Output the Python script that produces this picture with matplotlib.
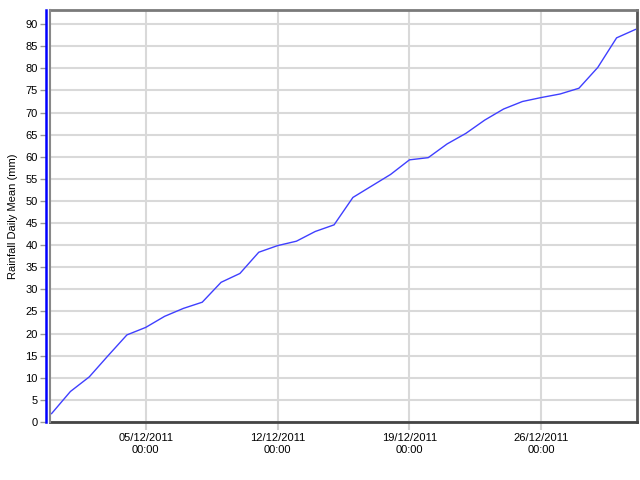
import datetime as dt
import numpy as np
import matplotlib
matplotlib.use('Agg')
import matplotlib.pyplot as plt
import matplotlib.dates as mdates

# daily rainfall mean (cumulative), 30/11/2011 .. 31/12/2011
start = dt.datetime(2011, 11, 30)
days = [start + dt.timedelta(days=i) for i in range(32)]
rain = [1.9, 6.9, 10.2, 15.0, 19.7, 21.4, 23.9, 25.7, 27.1, 31.6,
        33.6, 38.4, 39.9, 40.9, 43.1, 44.6, 50.8, 53.4, 56.0, 59.3,
        59.8, 62.9, 65.3, 68.3, 70.8, 72.5, 73.4, 74.2, 75.5, 80.2,
        86.9, 88.8]
tick_days = [dt.datetime(2011, 12, d) for d in (5, 12, 19, 26)]
y_ticks = list(range(0, 95, 5))

plt.rcParams['font.family'] = ['Liberation Sans', 'DejaVu Sans']

fig = plt.figure(figsize=(6.4, 4.8), dpi=100)
ax = fig.add_axes([50 / 640, 1 - 422 / 480, 587 / 640, 412 / 480])

ax.plot(days, rain, color='#3f3fff', linewidth=1.0, zorder=3)

ax.set_xlim(days[0] - dt.timedelta(hours=2), days[-1] + dt.timedelta(hours=2))
ax.set_ylim(0, 93.2)

ax.set_yticks(y_ticks)
ax.set_xticks(tick_days)
ax.xaxis.set_major_formatter(mdates.DateFormatter('%d/%m/%Y\n%H:%M'))

ax.grid(True, color='#d9d9d9', linewidth=1.5, zorder=0)
ax.set_axisbelow(True)

ax.tick_params(axis='x', length=6, width=1.5, color='#d0d0d0', labelsize=8, pad=2)
ax.tick_params(axis='y', length=4, width=1, color='#999999', labelsize=8, pad=2)

for s in ('top', 'right', 'bottom'):
    ax.spines[s].set_linewidth(2)
ax.spines['top'].set_color('#7a7a7a')
ax.spines['right'].set_color('#555555')
ax.spines['bottom'].set_color('#444444')
ax.spines['left'].set_position(('outward', 3))
ax.spines['left'].set_color('#0000ff')
ax.spines['left'].set_linewidth(1.8)
ax.plot([0, 0], [0, 1], transform=ax.transAxes, color='#888888',
        linewidth=1.5, clip_on=False, zorder=4)

ax.set_ylabel('Rainfall Daily Mean (mm)', fontsize=8, labelpad=5)

fig.savefig('out.png', dpi=100)
